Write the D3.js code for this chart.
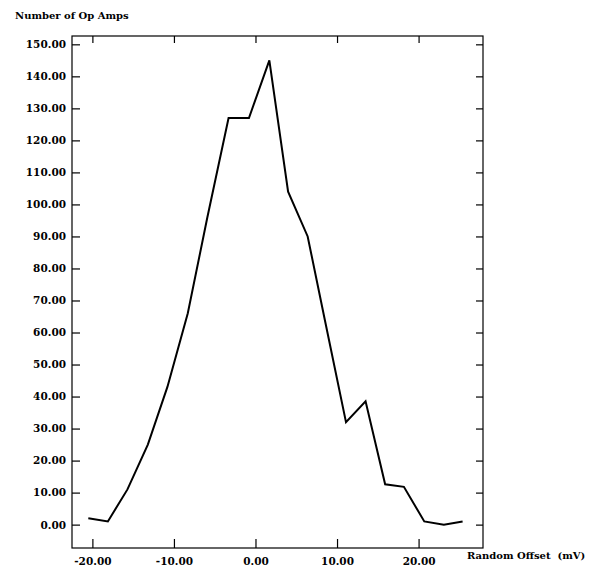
<!DOCTYPE html>
<html>
<head>
<meta charset="utf-8">
<script src="https://cdn.jsdelivr.net/npm/d3@7"></script>
<style>
    body { margin: 0; background: #fff; }
    svg { display: block; }
    svg text { font-family: "DejaVu Serif", serif; font-weight: bold; fill: #000; }
</style>
</head>
<body>
<svg></svg>
<script>
//data
var offsets = [-20.5, -18.1, -15.7, -13.2, -10.8, -8.3, -5.9, -3.3, -0.8, 1.7,
               4.0, 6.4, 8.5, 11.1, 13.5, 15.9, 18.2, 20.7, 23.1, 25.4];
var counts = [2, 1, 11, 25, 43, 66, 96, 127, 127, 145,
              104, 90, 64, 32, 38.5, 12.6, 11.8, 1, 0, 1];
var xTicks = [-20, -10, 0, 10, 20];
var yTicks = [0, 10, 20, 30, 40, 50, 60, 70, 80, 90, 100, 110, 120, 130, 140, 150];
var yTitle = "Number of Op Amps";
var xTitle = "Random Offset  (mV)";

var width = 590;
var height = 567;
//plot frame edges (window.top is taken, so use other names)
var plotLeft = 72, plotRight = 483, plotTop = 36, plotBottom = 548;

var fmt = function(d)
{
    return d.toFixed(2);
};

var svg = d3.select("svg")
    .attr("width", width)
    .attr("height", height);

//scales
var xScale = d3.scaleLinear()
    .domain([-22.5, 27.9])
    .range([plotLeft, plotRight]);
var yScale = d3.scaleLinear()
    .domain([-7.3, 152.6])
    .range([plotBottom, plotTop]);

//frame
svg.append("rect")
    .attr("x", plotLeft)
    .attr("y", plotTop)
    .attr("width", plotRight - plotLeft)
    .attr("height", plotBottom - plotTop)
    .attr("fill", "none")
    .attr("stroke", "#000")
    .attr("stroke-width", 1.2);

//axes, ticks pointing inward
svg.append("g")
    .attr("transform", "translate(" + plotLeft + ",0)")
    .call(d3.axisLeft(yScale).tickValues(yTicks).tickFormat(fmt)
        .tickSize(-8).tickPadding(6));
svg.append("g")
    .attr("transform", "translate(" + plotRight + ",0)")
    .call(d3.axisRight(yScale).tickValues(yTicks).tickFormat("")
        .tickSize(-7));
svg.append("g")
    .attr("transform", "translate(0," + plotBottom + ")")
    .call(d3.axisBottom(xScale).tickValues(xTicks).tickFormat(fmt)
        .tickSize(-9).tickPadding(10));
svg.append("g")
    .attr("transform", "translate(0," + plotTop + ")")
    .call(d3.axisTop(xScale).tickValues(xTicks).tickFormat("")
        .tickSize(-7));

svg.selectAll(".domain").remove();
svg.selectAll(".tick line")
    .attr("stroke", "#000")
    .attr("stroke-width", 1.2);
svg.selectAll(".tick text")
    .attr("font-size", 10.5)
    .attr("font-family", "DejaVu Serif")
    .attr("font-weight", "bold");

//curve
var line = d3.line()
    .x(function(d, i) { return xScale(offsets[i]); })
    .y(function(d) { return yScale(d); });

svg.append("path")
    .datum(counts)
    .attr("d", line)
    .attr("fill", "none")
    .attr("stroke", "#000")
    .attr("stroke-width", 2)
    .attr("stroke-linejoin", "miter");

//titles
svg.append("text")
    .attr("x", 15)
    .attr("y", 19)
    .attr("font-size", 10)
    .text(yTitle);

svg.append("text")
    .attr("x", 467)
    .attr("y", 559)
    .attr("font-size", 10)
    .style("white-space", "pre")
    .text(xTitle);
</script>
</body>
</html>
